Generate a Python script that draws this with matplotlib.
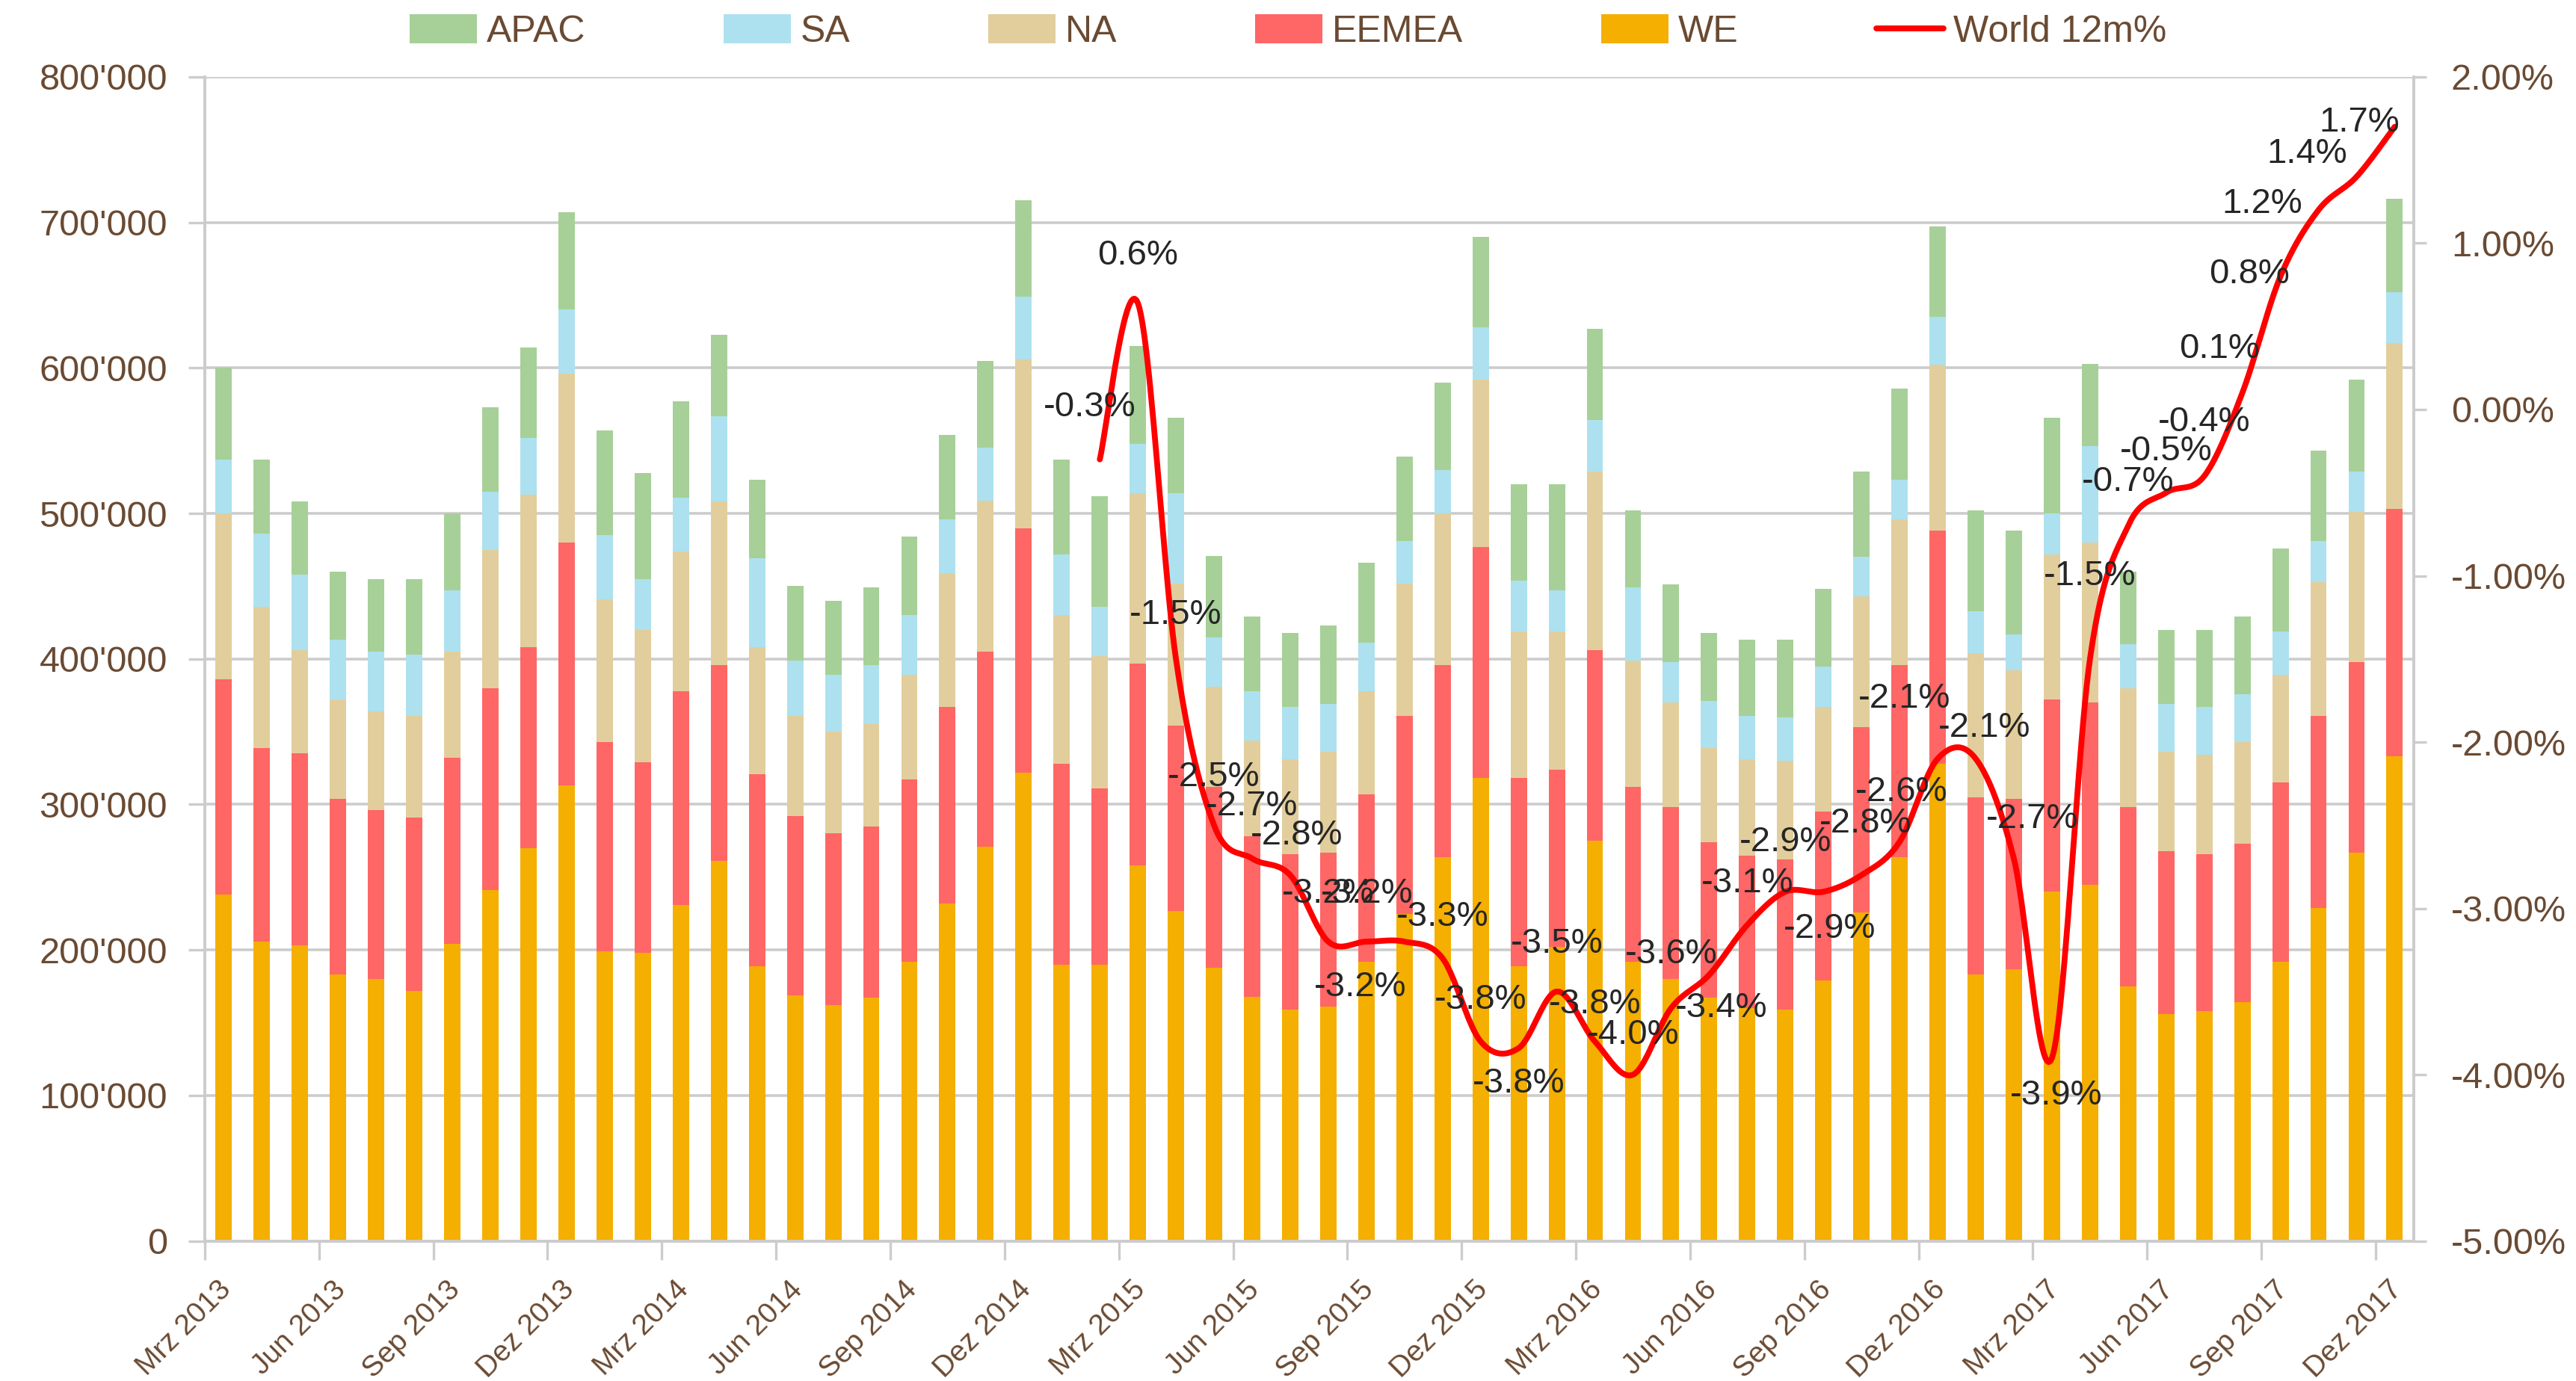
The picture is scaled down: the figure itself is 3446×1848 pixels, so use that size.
import numpy as np
import matplotlib
matplotlib.use("Agg")
import matplotlib.pyplot as plt
import matplotlib.transforms as mtransforms
from matplotlib.ticker import FuncFormatter, FixedLocator

# --- 1. DATA (values in thousands) ---
WE = [238, 206, 203, 183, 180, 172, 204, 241, 270, 313, 199, 198, 231, 261, 189, 169, 162, 167, 192, 232,
      271, 322, 190, 190, 258, 227, 188, 168, 159, 161, 192, 225, 264, 318, 189, 202, 275, 192, 180, 167,
      160, 159, 179, 226, 264, 328, 183, 187, 240, 245, 175, 156, 158, 164, 192, 229, 267, 333]
EEMEA = [148, 133, 132, 121, 116, 119, 128, 139, 138, 167, 144, 131, 147, 135, 132, 123, 118, 118, 125, 135,
         134, 168, 138, 121, 139, 127, 124, 110, 107, 106, 115, 136, 132, 159, 129, 122, 131, 120, 118, 107,
         105, 103, 116, 127, 132, 160, 122, 117, 132, 125, 123, 112, 108, 109, 123, 132, 131, 170]
NA = [114, 97, 71, 68, 68, 70, 73, 95, 105, 116, 98, 91, 96, 112, 87, 69, 70, 70, 72, 92,
      104, 116, 102, 91, 117, 98, 69, 66, 65, 69, 71, 91, 104, 115, 101, 95, 123, 87, 72, 65,
      66, 68, 72, 90, 100, 114, 99, 88, 100, 110, 82, 68, 68, 70, 74, 92, 103, 114]
SA = [37, 50, 52, 41, 41, 42, 42, 40, 39, 44, 44, 35, 37, 59, 61, 38, 39, 41, 41, 37,
      36, 43, 42, 34, 34, 62, 34, 34, 36, 33, 33, 29, 30, 36, 35, 28, 35, 50, 28, 32,
      30, 30, 28, 27, 27, 33, 29, 25, 28, 66, 30, 33, 33, 33, 30, 28, 28, 35]
APAC = [63, 51, 50, 47, 50, 52, 53, 58, 62, 67, 72, 73, 66, 56, 54, 51, 51, 53, 54, 58,
        60, 66, 65, 76, 67, 52, 56, 51, 51, 54, 55, 58, 60, 62, 66, 73, 63, 53, 53, 47,
        52, 53, 53, 59, 63, 62, 69, 71, 66, 57, 50, 51, 53, 53, 57, 62, 63, 64]

# World 12m% (in %), starts Feb 2015 (index 23)
WORLD_START = 23
WORLD = [-0.3, 0.64, -1.5, -2.5, -2.7, -2.8, -3.2, -3.2, -3.2, -3.3, -3.8, -3.84, -3.5, -3.8, -4.0,
         -3.6, -3.4, -3.1, -2.9, -2.9, -2.8, -2.6, -2.1, -2.1, -2.7, -3.9, -1.5, -0.7, -0.5, -0.4,
         0.1, 0.8, 1.2, 1.4, 1.7]

TICK_LABELS = ["Mrz 2013", "Jun 2013", "Sep 2013", "Dez 2013", "Mrz 2014", "Jun 2014", "Sep 2014",
               "Dez 2014", "Mrz 2015", "Jun 2015", "Sep 2015", "Dez 2015", "Mrz 2016", "Jun 2016",
               "Sep 2016", "Dez 2016", "Mrz 2017", "Jun 2017", "Sep 2017", "Dez 2017"]

# label offsets (points) for the line data labels
LABEL_OFFSETS = [(-5, 25), (0, 23), (0, 21), (0, 23), (0, 25), (3, 19), (0, 23), (-3, -22), (-18, 23),
                 (0, 20), (0, 20), (0, -17), (0, 23), (0, 18), (0, 19), (0, 26), (6, -16), (0, 20),
                 (0, 24), (3, -18), (2, 25), (1, 24), (-16, 29), (4, 15), (9, 19), (2, -18), (0, 40),
                 (0, 21), (0, 20), (0, 26), (-11, 21), (-15, 1), (-27, 3), (-24, 11), (-17, 2)]

# --- 2. STYLE ---
plt.rcParams['font.family'] = ['Liberation Sans', 'DejaVu Sans']
TXT = '#6A4A32'
GRID = '#CCCCCC'
COLORS = {'WE': '#F4AF00', 'EEMEA': '#FF6666', 'NA': '#E2CE9C', 'SA': '#ADE1EF', 'APAC': '#A6D097'}


def smooth(xs, ys, n=24):
    """Catmull-Rom curve through the points (like Excel's smoothed line)."""
    pts = np.column_stack([xs, ys]).astype(float)
    out = []
    for i in range(len(pts) - 1):
        p0 = pts[i - 1] if i > 0 else pts[i]
        p1, p2 = pts[i], pts[i + 1]
        p3 = pts[i + 2] if i + 2 < len(pts) else pts[i + 1]
        t = np.linspace(0, 1, n, endpoint=False)[:, None]
        seg = 0.5 * ((2 * p1) + (-p0 + p2) * t + (2 * p0 - 5 * p1 + 4 * p2 - p3) * t ** 2
                     + (-p0 + 3 * p1 - 3 * p2 + p3) * t ** 3)
        out.append(seg)
    out.append(pts[-1:])
    c = np.vstack(out)
    return c[:, 0], c[:, 1]


# --- 3. PLOT ---
fig = plt.figure(figsize=(17.23, 9.24), dpi=200)
ax = fig.add_axes([0.0795, 0.1014, 0.8575, 0.8429])
x = np.arange(len(WE))
width = 0.43

series = [('WE', WE), ('EEMEA', EEMEA), ('NA', NA), ('SA', SA), ('APAC', APAC)]
bottom = np.zeros(len(WE))
handles = {}
for name, vals in series:
    v = np.array(vals) * 1000.0
    handles[name] = ax.bar(x, v, width, bottom=bottom, color=COLORS[name], label=name, zorder=2)
    bottom += v

ax.set_xlim(-0.5, len(WE) - 0.5)
ax.set_ylim(0, 800000)
ax.set_yticks(np.arange(0, 800001, 100000))
ax.yaxis.set_major_formatter(FuncFormatter(lambda v, p: f"{int(v):,}".replace(",", "'")))
ax.grid(axis='y', color=GRID, linewidth=1.3, zorder=0)
ax.set_axisbelow(True)

# x axis: ticks at category boundaries, labels every 3 months
ax.xaxis.set_major_locator(FixedLocator(np.arange(-0.5, len(WE) - 1, 3)))
ax.xaxis.set_minor_locator(FixedLocator(np.arange(0, len(WE), 3)))
ax.set_xticklabels([], minor=False)
ax.set_xticklabels(TICK_LABELS, minor=True, rotation=45, ha='right', va='top',
                   rotation_mode='anchor', fontsize=14, color=TXT)
ax.tick_params(axis='x', which='major', length=9, width=1.2, color=GRID)
ax.tick_params(axis='x', which='minor', length=0, pad=17)
ax.tick_params(axis='y', length=8, width=1.2, color=GRID, labelsize=17.5, labelcolor=TXT, pad=10)
shift = mtransforms.ScaledTranslation(-3 / 72, 0, fig.dpi_scale_trans)
for lbl in ax.get_xticklabels(minor=True):
    lbl.set_transform(lbl.get_transform() + shift)

for s in ['left', 'bottom', 'right']:
    ax.spines[s].set_color(GRID)
    ax.spines[s].set_linewidth(1.3)
ax.spines['top'].set_visible(False)

# secondary axis: World 12m%
ax2 = ax.twinx()
ax2.set_ylim(-5, 2)
ax2.set_yticks(np.arange(-5, 2.01, 1))
ax2.yaxis.set_major_formatter(FuncFormatter(lambda v, p: f"{v:.2f}%"))
ax2.tick_params(axis='y', length=6, width=1.2, color=GRID, labelsize=17.5, labelcolor=TXT, pad=12)
for s in ['left', 'bottom', 'right']:
    ax2.spines[s].set_color(GRID)
    ax2.spines[s].set_linewidth(1.3)
ax2.spines['top'].set_visible(False)

wx = np.arange(WORLD_START, WORLD_START + len(WORLD))
sx, sy = smooth(wx, WORLD)
line, = ax2.plot(sx, sy, color='#FF0000', linewidth=2.8, label='World 12m%', zorder=3,
                 solid_capstyle='round')

for xi, yi, (dx, dy) in zip(wx, WORLD, LABEL_OFFSETS):
    ax2.annotate(f"{yi:.1f}%", (xi, yi), xytext=(dx, dy), textcoords='offset points',
                 ha='center', va='center', fontsize=17, color='#262626', zorder=4)

# legend on top
order = ['APAC', 'SA', 'NA', 'EEMEA', 'WE']
fig.legend([handles[n] for n in order] + [line], order + ['World 12m%'],
           loc='center', bbox_to_anchor=(0.5, 0.977), ncol=6, frameon=False,
           fontsize=18, labelcolor=TXT, handlelength=1.8, handleheight=0.8,
           handletextpad=0.25, columnspacing=3.7)

fig.savefig('out.png', dpi=200, facecolor='white')
